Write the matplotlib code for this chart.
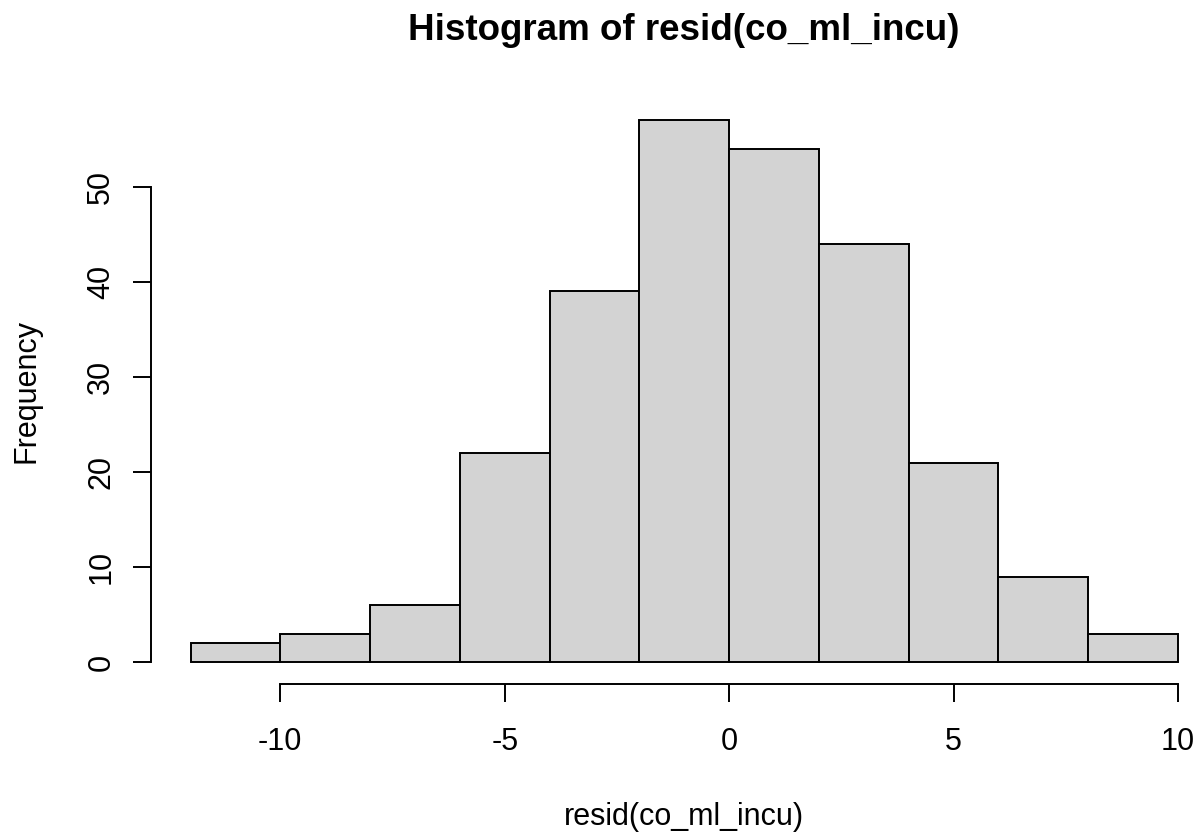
import numpy as np
import matplotlib.pyplot as plt

plt.rcParams['font.family'] = ['Liberation Sans', 'DejaVu Sans']
plt.rcParams['axes.unicode_minus'] = False

# histogram of residuals, R-style
breaks = [-12, -10, -8, -6, -4, -2, 0, 2, 4, 6, 8, 10]
counts = [2, 3, 6, 22, 39, 57, 54, 44, 21, 9, 3]
xticks = [-10, -5, 0, 5, 10]
yticks = [0, 10, 20, 30, 40, 50]

W, H = 1199, 834
fig = plt.figure(figsize=(W / 100, H / 100), dpi=100)

# axes placed in pixels so the data region matches R's 4% padding
left, right = 151, 1217.5
top, bottom = 98.8, 683.7
ax = fig.add_axes([left / W, 1 - bottom / H, (right - left) / W, (bottom - top) / H])

edges = np.array(breaks)
ax.bar(edges[:-1], counts, width=np.diff(edges), align='edge',
       color='#d3d3d3', edgecolor='black', linewidth=1.4)

ax.set_xlim(-12.88, 10.88)
ax.set_ylim(-2.28, 59.28)

for s in ['top', 'right']:
    ax.spines[s].set_visible(False)
ax.spines['bottom'].set_bounds(xticks[0], xticks[-1])
ax.spines['left'].set_bounds(yticks[0], yticks[-1])
ax.spines['bottom'].set_linewidth(1.4)
ax.spines['left'].set_linewidth(1.4)

ax.set_xticks(xticks)
ax.set_yticks(yticks)
ax.tick_params(axis='both', length=13, width=1.4, labelsize=22)
ax.tick_params(axis='x', pad=18)
ax.tick_params(axis='y', labelrotation=90, pad=12)
for lab in ax.get_yticklabels():
    lab.set_verticalalignment('center')

cx = 0.5 * (left + right) / W
fig.text(cx, 1 - 31 / H, 'Histogram of resid(co_ml_incu)',
         ha='center', va='center', fontsize=26.5, fontweight='bold')
fig.text(cx, 1 - 817 / H, 'resid(co_ml_incu)',
         ha='center', va='center', fontsize=22)
fig.text(26 / W, 1 - (top + bottom) / 2 / H, 'Frequency',
         ha='center', va='center', rotation=90, fontsize=22)

fig.savefig('out.png', dpi=100)
